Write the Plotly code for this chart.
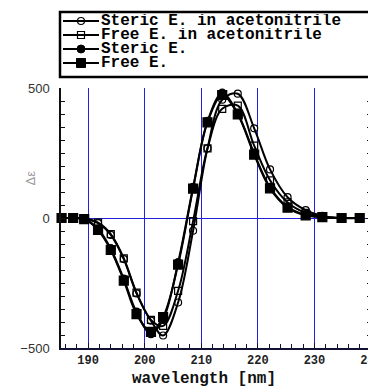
import plotly.graph_objects as go

wavelength = [185.3, 187.35, 189.3, 191.75, 194.0, 196.3, 198.55, 201.1, 203.25, 205.9,
              208.55, 211.1, 213.7, 216.45, 219.35, 222.15, 225.25, 228.45, 231.4, 234.8, 238.0]
steric_acn = [0, 0, -2, -20, -65, -158, -290, -395, -452, -325, -49, 268, 455, 478, 345, 187, 80, 30, 8, 0, 0]
free_acn = [0, 0, -2, -18, -62, -155, -287, -392, -415, -280, -12, 268, 420, 432, 278, 145, 60, 20, 5, 0, 0]
steric = [0, 0, -4, -42, -118, -235, -362, -445, -390, -172, 118, 372, 480, 402, 248, 118, 42, 12, 3, 0, 0]
free = [0, 0, -4, -46, -123, -241, -370, -438, -381, -179, 113, 368, 473, 398, 244, 114, 40, 10, 3, 0, 0]

names = ["Steric E. in acetonitrile", "Free E. in acetonitrile", "Steric E.", "Free E."]
series = [steric_acn, free_acn, steric, free]
symbols = ["circle-open", "square-open", "circle", "square"]
msizes = [7, 7, 8, 9]

OFF = 8  # page body margin
W, H = 376 - OFF, 388 - OFF
L, R, T, B = 61 - OFF, 5, 88 - OFF, 40
PW, PH = W - L - R, H - T - B

def px(xp):
    return (xp - OFF - L) / PW

def py(yp):
    return (H - B - (yp - OFF)) / PH

fig = go.Figure()
for n, s, sym, ms in zip(names, series, symbols, msizes):
    fig.add_trace(go.Scatter(
        x=wavelength, y=s, name=n, mode="lines+markers",
        line=dict(color="black", width=2, shape="spline"),
        marker=dict(symbol=sym, size=ms, color="black", line=dict(color="black", width=1.2)),
        cliponaxis=False, showlegend=False))

mono = "Liberation Mono, Courier New, monospace"
shapes = [dict(type="rect", xref="paper", yref="paper", x0=px(60), x1=px(372), y0=py(77), y1=py(12),
               line=dict(color="black", width=2.5), fillcolor="white", layer="above")]
annotations = []
rows = [21, 35, 49, 63]
for i, (n, sym) in enumerate(zip(names, symbols)):
    yc = py(rows[i])
    shapes.append(dict(type="line", xref="paper", yref="paper", x0=px(63), x1=px(99), y0=yc, y1=yc,
                       line=dict(color="black", width=2), layer="above"))
    common = dict(xref="paper", yref="paper", xsizemode="pixel", ysizemode="pixel",
                  xanchor=px(81), yanchor=yc, layer="above")
    if sym == "circle-open":
        shapes.append(dict(type="circle", x0=-3.5, x1=3.5, y0=-3.5, y1=3.5,
                           line=dict(color="black", width=1.2), **common))
    elif sym == "square-open":
        shapes.append(dict(type="rect", x0=-3.5, x1=3.5, y0=-3.5, y1=3.5,
                           line=dict(color="black", width=1.2), **common))
    elif sym == "circle":
        shapes.append(dict(type="circle", x0=-4, x1=4, y0=-4, y1=4, fillcolor="black",
                           line=dict(color="black", width=1), **common))
    else:
        shapes.append(dict(type="rect", x0=-4.5, x1=4.5, y0=-4.5, y1=4.5, fillcolor="black",
                           line=dict(color="black", width=1), **common))
    annotations.append(dict(xref="paper", yref="paper", x=px(100), y=yc, text=n, showarrow=False,
                            xanchor="left", yanchor="middle", height=14, borderpad=0,
                            font=dict(family=mono, size=16, color="black", weight="bold")))

annotations.append(dict(xref="paper", yref="paper", x=px(20), y=py(178), text="Δε", showarrow=False,
                        textangle=-90, font=dict(family="Liberation Sans, Arial", size=13, color="#999999")))
annotations.append(dict(xref="paper", yref="paper", x=px(204), y=py(379), text="wavelength [nm]",
                        showarrow=False, xanchor="center", yanchor="middle",
                        font=dict(family=mono, size=16, color="#111111", weight="bold")))

grid_blue = "#2222dd"
fig.update_layout(
    width=W, height=H, margin=dict(l=L, r=R, t=T, b=B, autoexpand=False),
    paper_bgcolor="white", plot_bgcolor="white",
    shapes=shapes, annotations=annotations,
    xaxis=dict(range=[185.2, 240], dtick=10, tick0=190, ticks="inside", ticklen=5, tickwidth=1.2,
               tickcolor="#111133", showline=True, linecolor="#111133", linewidth=1.5,
               showgrid=True, gridcolor=grid_blue, gridwidth=1, zeroline=False,
               tickfont=dict(family=mono, size=12, color="#222222", weight="bold"),
               ticklabeloverflow="allow", ticklabelstandoff=0,
               minor=dict(dtick=2, ticks="inside", ticklen=4, tickcolor="#111133", showgrid=False),
               automargin=False),
    yaxis=dict(range=[-500, 500], dtick=500, ticks="inside", ticklen=5, tickwidth=1.2,
               tickcolor="#111111", showline=True, linecolor="#111111", linewidth=1.5,
               mirror="ticks", showgrid=True, gridcolor=grid_blue, gridwidth=1, zeroline=False,
               tickfont=dict(family="Liberation Sans, Arial", size=13, color="#333333"),
               ticklabelstandoff=7,
               minor=dict(dtick=50, ticks="inside", ticklen=4, tickcolor="#111111", showgrid=False),
               automargin=False),
)

fig.write_html("out.html")
